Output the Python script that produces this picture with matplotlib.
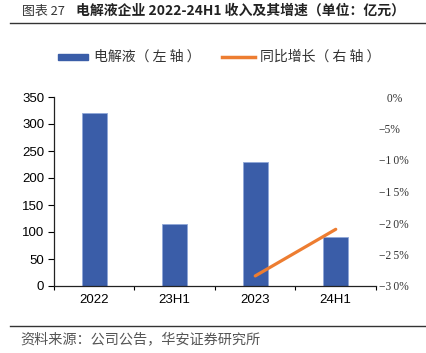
import matplotlib
matplotlib.use("Agg")
import matplotlib.pyplot as plt
import numpy as np
from matplotlib.lines import Line2D
from matplotlib.patches import Rectangle

plt.rcParams['font.family'] = ['Liberation Sans', 'Noto Sans CJK SC', 'DejaVu Sans']

categories = ["2022", "23H1", "2023", "24H1"]
revenue = [320, 115, 230, 91]
growth = [np.nan, np.nan, -28.4, -21.0]
left_ticks = [0, 50, 100, 150, 200, 250, 300, 350]
right_ticks = [0, -5, -10, -15, -20, -25, -30]

title_a = "图表 27"
title_b = "电解液企业 2022-24H1 收入及其增速（单位：亿元）"
source = "资料来源：公司公告，华安证券研究所"
legend_labels = ["电解液（ 左 轴 ）", "同比增长（ 右 轴 ）"]

BLUE = "#3A5DA8"
ORANGE = "#ED7D31"
CJK = ['Noto Sans CJK SC', 'DejaVu Sans']

fig = plt.figure(figsize=(4.27, 3.53), dpi=100)
W, H = 427, 353
def fx(px): return px / W
def fy(py): return 1 - py / H

ax = fig.add_axes([fx(54), fy(286), (376 - 54) / W, (286 - 97) / H])
x = np.arange(len(categories))
ax.bar(x, revenue, width=0.31, color=BLUE, edgecolor="#8FA8D8", linewidth=0.6, zorder=2)
ax.set_xlim(-0.5, 3.5)
ax.set_ylim(0, 350)
ax.set_yticks(left_ticks)
ax.set_xticks(x)
ax.set_xticklabels(categories, fontsize=9.5)
ax.tick_params(axis='y', labelsize=9.5, length=4, direction='out', width=0.8, pad=3)
ax.tick_params(axis='x', length=0, pad=6)
ax.set_xticks(np.arange(-0.5, 4.0, 1.0), minor=True)
ax.tick_params(axis='x', which='minor', length=3, direction='out', width=0.8)
for s in ['top', 'right']:
    ax.spines[s].set_visible(False)
for s in ['left', 'bottom']:
    ax.spines[s].set_linewidth(0.9)
    ax.spines[s].set_color("#222222")

ax2 = ax.twinx()
ax2.plot(x, growth, color=ORANGE, linewidth=2.3, solid_capstyle='round', zorder=3)
ax2.set_ylim(-30, 0)
ax2.set_yticks(right_ticks)
def fmt(v):
    if v == 0:
        return "\u2002\u20090%"
    s = str(abs(v))
    return "−" + "\u2009".join(s) + "%"
ax2.set_yticklabels([fmt(v) for v in right_ticks],
                    family=['Liberation Serif', 'DejaVu Serif'], fontsize=8.3, color="#333333")
ax2.tick_params(axis='y', length=0, pad=2)
for s in ['top', 'right', 'left', 'bottom']:
    ax2.spines[s].set_visible(False)

# Title and rules
fig.text(fx(22), fy(11), title_a, fontsize=9.3, family=CJK, va='center', ha='left', color="#333333")
fig.text(fx(76), fy(11), title_b, fontsize=10, fontweight='bold',
         family=CJK, va='center', ha='left', color="#222222")
fig.add_artist(Line2D([fx(10), 1], [fy(23), fy(23)], color="#333333", linewidth=1.0))
fig.add_artist(Line2D([fx(10), 1], [fy(326), fy(326)], color="#333333", linewidth=1.0))
fig.text(fx(20), fy(340), source, fontsize=10.2, family=CJK, va='center', ha='left', color="#555555")

# Legend (drawn manually)
fig.add_artist(Rectangle((fx(58), fy(60)), (88 - 58) / W, 6 / H, color=BLUE, transform=fig.transFigure))
fig.text(fx(94), fy(57), legend_labels[0], fontsize=10, family=CJK, va='center', ha='left', color="#333333")
fig.add_artist(Line2D([fx(222), fx(255)], [fy(57), fy(57)], color=ORANGE, linewidth=2.5))
fig.text(fx(260), fy(57), legend_labels[1], fontsize=10, family=CJK, va='center', ha='left', color="#333333")

fig.savefig("out.png", dpi=100)
